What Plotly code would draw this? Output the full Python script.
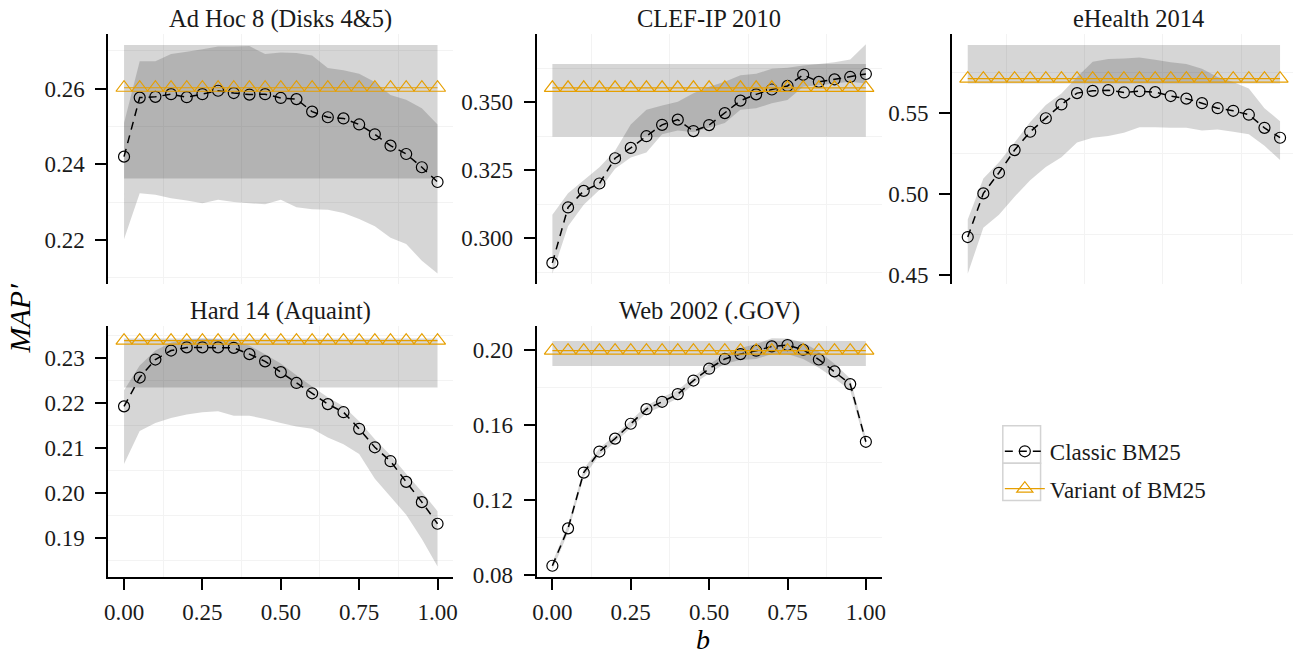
import plotly.graph_objects as go

W, H = 1297, 658

b = [0.00, 0.05, 0.10, 0.15, 0.20, 0.25, 0.30, 0.35, 0.40, 0.45, 0.50,
     0.55, 0.60, 0.65, 0.70, 0.75, 0.80, 0.85, 0.90, 0.95, 1.00]

titles = ["Ad Hoc 8 (Disks 4&5)", "CLEF-IP 2010", "eHealth 2014",
          "Hard 14 (Aquaint)", "Web 2002 (.GOV)"]

# Ad Hoc 8
adhoc_classic = [0.2420, 0.2576, 0.2578, 0.2585, 0.2577, 0.2585, 0.2594, 0.2588, 0.2584, 0.2585, 0.2575,
                 0.2572, 0.2539, 0.2524, 0.2521, 0.2505, 0.2479, 0.2449, 0.2427, 0.2392, 0.2353]
adhoc_upper = [0.2509, 0.2672, 0.2672, 0.2691, 0.2697, 0.2704, 0.2711, 0.2711, 0.2712, 0.2691, 0.2695,
               0.2694, 0.2687, 0.2654, 0.2648, 0.2639, 0.2617, 0.2583, 0.2570, 0.2548, 0.2505]
adhoc_lower = [0.2202, 0.2323, 0.2319, 0.2310, 0.2304, 0.2297, 0.2306, 0.2300, 0.2297, 0.2294, 0.2306,
               0.2286, 0.2281, 0.2280, 0.2271, 0.2255, 0.2236, 0.2206, 0.2189, 0.2145, 0.2111]
adhoc_variant, adhoc_variant_lo, adhoc_variant_hi = 0.2602, 0.2362, 0.2715

# CLEF-IP 2010
clef_classic = [0.2909, 0.3113, 0.3174, 0.3201, 0.3294, 0.3332, 0.3375, 0.3417, 0.3436, 0.3394, 0.3416,
                0.3460, 0.3506, 0.3529, 0.3547, 0.3560, 0.3601, 0.3575, 0.3584, 0.3593, 0.3604]
clef_upper = [0.3086, 0.3165, 0.3213, 0.3261, 0.3322, 0.3418, 0.3472, 0.3488, 0.3502, 0.3533, 0.3557,
              0.3575, 0.3599, 0.3605, 0.3623, 0.3627, 0.3635, 0.3641, 0.3647, 0.3657, 0.3713]
clef_lower = [0.2869, 0.3044, 0.3123, 0.3177, 0.3255, 0.3297, 0.3315, 0.3382, 0.3396, 0.3390, 0.3406,
              0.3424, 0.3472, 0.3478, 0.3496, 0.3508, 0.3557, 0.3563, 0.3569, 0.3575, 0.3569]
clef_variant, clef_variant_lo, clef_variant_hi = 0.3553, 0.3373, 0.3641

# eHealth 2014
ehealth_classic = [0.4736, 0.5005, 0.5132, 0.5272, 0.5385, 0.5468, 0.5553, 0.5623, 0.5637, 0.5641, 0.5627,
                   0.5635, 0.5629, 0.5605, 0.5589, 0.5561, 0.5530, 0.5514, 0.5490, 0.5409, 0.5348]
ehealth_upper = [0.4844, 0.5096, 0.5197, 0.5318, 0.5445, 0.5550, 0.5621, 0.5722, 0.5817, 0.5833, 0.5837,
                 0.5843, 0.5829, 0.5813, 0.5803, 0.5773, 0.5722, 0.5692, 0.5652, 0.5530, 0.5450]
ehealth_lower = [0.4510, 0.4793, 0.4874, 0.4985, 0.5086, 0.5167, 0.5227, 0.5318, 0.5348, 0.5359, 0.5379,
                 0.5413, 0.5413, 0.5409, 0.5409, 0.5393, 0.5399, 0.5385, 0.5369, 0.5298, 0.5211]
ehealth_variant, ehealth_variant_lo, ehealth_variant_hi = 0.5712, 0.5682, 0.5920

# Hard 14
hard_classic = [0.2193, 0.2257, 0.2297, 0.2317, 0.2324, 0.2324, 0.2324, 0.2323, 0.2309, 0.2293, 0.2269,
                0.2245, 0.2222, 0.2198, 0.2180, 0.2143, 0.2102, 0.2071, 0.2025, 0.1980, 0.1932]
hard_upper = [0.2229, 0.2284, 0.2317, 0.2335, 0.2342, 0.2344, 0.2342, 0.2338, 0.2328, 0.2309, 0.2288,
              0.2262, 0.2237, 0.2213, 0.2193, 0.2160, 0.2120, 0.2084, 0.2043, 0.2003, 0.1960]
hard_lower = [0.2065, 0.2138, 0.2156, 0.2167, 0.2175, 0.2180, 0.2182, 0.2172, 0.2172, 0.2165, 0.2156,
              0.2148, 0.2143, 0.2124, 0.2109, 0.2087, 0.2032, 0.1992, 0.1952, 0.1898, 0.1837]
hard_variant, hard_variant_lo, hard_variant_hi = 0.2339, 0.2235, 0.2344

# Web 2002
web_classic = [0.0850, 0.1049, 0.1346, 0.1458, 0.1527, 0.1606, 0.1684, 0.1723, 0.1764, 0.1836, 0.1899,
               0.1951, 0.1977, 0.1995, 0.2018, 0.2025, 0.2000, 0.1948, 0.1885, 0.1817, 0.1510]
web_upper = [0.0869, 0.1070, 0.1367, 0.1475, 0.1545, 0.1623, 0.1702, 0.1747, 0.1785, 0.1855, 0.1921,
             0.1977, 0.2009, 0.2030, 0.2061, 0.2060, 0.2039, 0.1991, 0.1925, 0.1847, 0.1532]
web_lower = [0.0829, 0.1026, 0.1323, 0.1440, 0.1506, 0.1585, 0.1663, 0.1698, 0.1742, 0.1817, 0.1873,
             0.1925, 0.1946, 0.1951, 0.1977, 0.1977, 0.1951, 0.1904, 0.1847, 0.1785, 0.1489]
web_variant, web_variant_lo, web_variant_hi = 0.1995, 0.1913, 0.2047

x_tickvals = [0.00, 0.25, 0.50, 0.75, 1.00]
x_ticktext = ["0.00", "0.25", "0.50", "0.75", "1.00"]

y_tickvals = [
    [0.22, 0.24, 0.26],
    [0.300, 0.325, 0.350, 0.375],
    [0.45, 0.50, 0.55],
    [0.19, 0.20, 0.21, 0.22, 0.23],
    [0.08, 0.12, 0.16, 0.20],
]
y_ticktext = [
    ["0.22", "0.24", "0.26"],
    ["0.300", "0.325", "0.350", "0.375"],
    ["0.45", "0.50", "0.55"],
    ["0.19", "0.20", "0.21", "0.22", "0.23"],
    ["0.08", "0.12", "0.16", "0.20"],
]
y_minor = [
    [0.21, 0.23, 0.25, 0.27],
    [0.2875, 0.3125, 0.3375, 0.3625],
    [0.475, 0.525, 0.575],
    [0.185, 0.195, 0.205, 0.215, 0.225, 0.235],
    [0.10, 0.14, 0.18],
]
x_minor = [0.125, 0.375, 0.625, 0.875]

panels = [
    (adhoc_classic, adhoc_upper, adhoc_lower, adhoc_variant, adhoc_variant_lo, adhoc_variant_hi),
    (clef_classic, clef_upper, clef_lower, clef_variant, clef_variant_lo, clef_variant_hi),
    (ehealth_classic, ehealth_upper, ehealth_lower, ehealth_variant, ehealth_variant_lo, ehealth_variant_hi),
    (hard_classic, hard_upper, hard_lower, hard_variant, hard_variant_lo, hard_variant_hi),
    (web_classic, web_upper, web_lower, web_variant, web_variant_lo, web_variant_hi),
]


def px(x_ref):
    return x_ref / W


def py(y_ref):
    return 1 - y_ref / H


# layout geometry (reference pixels)
x_dom_px = [(105, 452), (536, 883), (954, 1297), (105, 452), (536, 883)]
x_ranges = [[-0.05, 1.05], [-0.05, 1.05], [-0.05, 1.0414], [-0.05, 1.05], [-0.05, 1.05]]
y_dom_px = [(35, 289), (35, 289), (35, 289), (332, 587), (332, 587)]
y_ranges = [[0.20831, 0.27429], [0.28307, 0.37496], [0.44455, 0.59848],
            [0.18132, 0.23706], [0.07890, 0.21241]]

FONT = "Liberation Serif, Times New Roman, serif"
BAND = "rgba(0,0,0,0.16)"
ORANGE = "#E69F00"
TXT = "#1a1a1a"

fig = go.Figure()

for i, (cl, up, lo, va, vlo, vhi) in enumerate(panels):
    xa = "x" if i == 0 else f"x{i+1}"
    ya = "y" if i == 0 else f"y{i+1}"
    fig.add_trace(go.Scatter(
        x=[b[0], b[-1], b[-1], b[0]], y=[vlo, vlo, vhi, vhi],
        fill="toself", fillcolor=BAND, mode="none", line=dict(width=0),
        hoverinfo="skip", showlegend=False, xaxis=xa, yaxis=ya))
    fig.add_trace(go.Scatter(
        x=b + b[::-1], y=up + lo[::-1],
        fill="toself", fillcolor=BAND, mode="none", line=dict(width=0),
        hoverinfo="skip", showlegend=False, xaxis=xa, yaxis=ya))
    fig.add_trace(go.Scatter(
        x=b, y=cl, mode="lines+markers", name="Classic BM25",
        line=dict(color="black", width=1.5, dash="8px,6px"),
        marker=dict(symbol="circle-open", size=11, color="black", line=dict(width=1.2)),
        showlegend=(i == 0), legend="legend", xaxis=xa, yaxis=ya))
    fig.add_trace(go.Scatter(
        x=b, y=[va] * len(b), mode="lines+markers", name="Variant of BM25",
        line=dict(color=ORANGE, width=1.2),
        marker=dict(symbol="triangle-up-open", size=14, color=ORANGE, line=dict(width=1.2)),
        showlegend=(i == 0), legend="legend2", xaxis=xa, yaxis=ya))

layout = dict(
    width=W, height=H, margin=dict(l=0, r=0, t=0, b=0),
    paper_bgcolor="white", plot_bgcolor="white",
    font=dict(family=FONT, size=23, color=TXT),
)

for i in range(5):
    xk = "xaxis" if i == 0 else f"xaxis{i+1}"
    yk = "yaxis" if i == 0 else f"yaxis{i+1}"
    xa_anchor = "y" if i == 0 else f"y{i+1}"
    ya_anchor = "x" if i == 0 else f"x{i+1}"
    bottom_row = i >= 3
    x0, x1 = x_dom_px[i]
    y0, y1 = y_dom_px[i]
    layout[xk] = dict(
        domain=[max(0, px(x0)), min(1, px(x1))], range=x_ranges[i], anchor=xa_anchor,
        showgrid=False, zeroline=False,
        showline=bottom_row, linecolor="black", linewidth=2,
        ticks="outside" if bottom_row else "", ticklen=11, tickwidth=1.5, tickcolor="black",
        tickvals=x_tickvals, ticktext=x_ticktext, showticklabels=bottom_row,
        ticklabelstandoff=2,
        tickfont=dict(size=23, family=FONT, color=TXT),
        minor=dict(tickvals=x_minor, showgrid=True, gridcolor="#F3F3F3", gridwidth=1, ticks=""),
    )
    layout[yk] = dict(
        domain=[py(y1), py(y0)], range=y_ranges[i], anchor=ya_anchor,
        showgrid=False, zeroline=False,
        showline=True, linecolor="black", linewidth=2,
        ticks="outside", ticklen=11, tickwidth=1.5, tickcolor="black",
        tickvals=y_tickvals[i], ticktext=y_ticktext[i],
        ticklabelstandoff=6,
        tickfont=dict(size=23, family=FONT, color=TXT),
        minor=dict(tickvals=y_minor[i], showgrid=True, gridcolor="#F3F3F3", gridwidth=1, ticks=""),
    )

annotations = []
title_x_px = [278.5, 709.5, 1142, 278.5, 709.5]
for i, t in enumerate(titles):
    if i < 3:
        yy, anchor = py(4), "top"
    else:
        yy, anchor = py(316), "middle"
    annotations.append(dict(
        text=t, x=px(title_x_px[i]), y=yy, xref="paper", yref="paper",
        xanchor="center", yanchor=anchor, showarrow=False, borderpad=0,
        font=dict(size=24.5, family=FONT, color=TXT)))
annotations.append(dict(
    text="<i>MAP′</i>", x=px(16), y=py(324), xref="paper", yref="paper",
    xanchor="center", yanchor="middle", showarrow=False, textangle=-90, borderpad=0,
    font=dict(size=30, family=FONT, color="black")))
annotations.append(dict(
    text="<i>b</i>", x=px(703), y=py(667.5), xref="paper", yref="paper",
    xanchor="center", yanchor="bottom", showarrow=False, borderpad=0,
    font=dict(size=28, family=FONT, color="black")))
layout["annotations"] = annotations

legend_common = dict(
    xanchor="left", yanchor="middle", bgcolor="rgba(0,0,0,0)", borderwidth=0,
    font=dict(size=23, family=FONT, color=TXT), itemwidth=40,
)
layout["legend"] = dict(x=px(1002), y=py(459), **legend_common)
layout["legend2"] = dict(x=px(1002), y=py(497), **legend_common)

layout["shapes"] = [
    dict(type="rect", xref="paper", yref="paper",
         x0=px(1005), x1=px(1043), y0=py(471), y1=py(433),
         line=dict(color="#D3D3D3", width=1.5), fillcolor="rgba(0,0,0,0)"),
    dict(type="rect", xref="paper", yref="paper",
         x0=px(1005), x1=px(1043), y0=py(509), y1=py(471),
         line=dict(color="#D3D3D3", width=1.5), fillcolor="rgba(0,0,0,0)"),
]

fig.update_layout(**layout)
fig.write_html("out.html", config={"displayModeBar": False},
               post_script="document.body.style.margin='0';")
